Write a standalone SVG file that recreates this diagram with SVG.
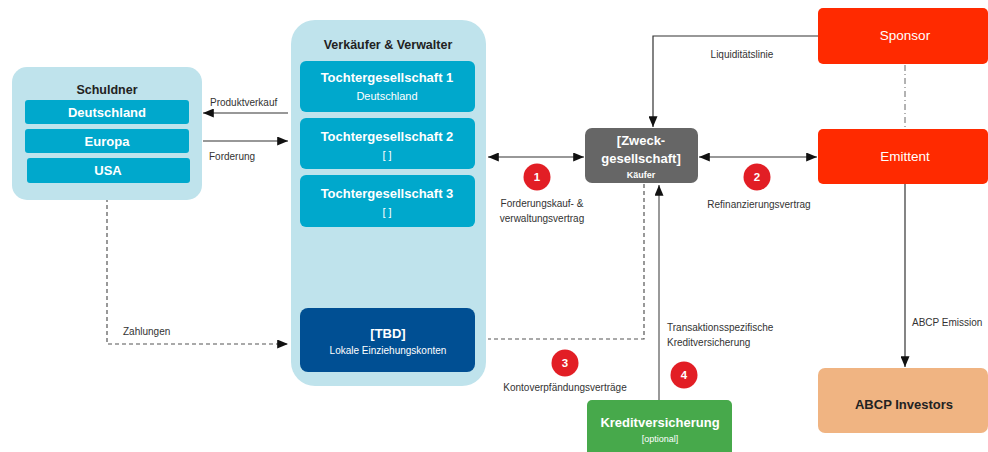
<svg xmlns="http://www.w3.org/2000/svg" width="988" height="452" viewBox="0 0 988 452">
<defs>
<marker id="ah" viewBox="0 0 12 10" refX="12" refY="5" markerWidth="12" markerHeight="9" markerUnits="userSpaceOnUse" orient="auto-start-reverse"><path d="M0,0 L12,5 L0,10 z" fill="#111"/></marker>
<style>
text{font-family:"Liberation Sans",Arial,sans-serif}
.t{font-size:12.5px;font-weight:bold;text-anchor:middle;fill:#222}
.w{font-size:13px;font-weight:bold;text-anchor:middle;fill:#fff}
.ws{font-size:11px;text-anchor:middle;fill:#fff}
.lbl{font-size:10px;fill:#333}
.lc{font-size:10px;fill:#333;text-anchor:middle}
.num{font-size:11.5px;font-weight:bold;fill:#fff;text-anchor:middle}
.ln{fill:none;stroke:#333;stroke-width:1.2}
.dash{fill:none;stroke:#555;stroke-width:1.2;stroke-dasharray:4 3}
.teal{fill:#00a8cc}
.lb{fill:#bfe3ec}
.red{fill:#ff2a00}
.circ{fill:#e21e25}
</style>
</defs>
<rect width="988" height="452" fill="#fff"/>

<g id="connectors">
<line class="ln" x1="288" y1="113" x2="203" y2="113" marker-end="url(#ah)"/>
<text class="lbl" x="210" y="106">Produktverkauf</text>
<line class="ln" x1="203" y1="141" x2="288" y2="141" marker-end="url(#ah)"/>
<text class="lbl" x="209" y="160">Forderung</text>
<polyline class="dash" points="107,184 107,344 288,344" marker-end="url(#ah)"/>
<text class="lbl" x="123" y="335">Zahlungen</text>
<line class="ln" x1="488" y1="157" x2="584" y2="157" marker-start="url(#ah)" marker-end="url(#ah)"/>
<text class="lc" x="542" y="207">Forderungskauf- &amp;</text>
<text class="lc" x="542" y="222">verwaltungsvertrag</text>
<line class="ln" x1="699" y1="157" x2="817" y2="157" marker-start="url(#ah)" marker-end="url(#ah)"/>
<text class="lc" x="759" y="208">Refinanzierungsvertrag</text>
<polyline class="ln" points="818,36 653,36 653,127" marker-end="url(#ah)"/>
<text class="lc" x="742" y="58">Liquiditätslinie</text>
<line x1="905" y1="65" x2="905" y2="129" stroke="#666" stroke-width="1" stroke-dasharray="6 3 1 3"/>
<line class="ln" x1="905" y1="184" x2="905" y2="367" marker-end="url(#ah)"/>
<text class="lbl" x="912" y="326">ABCP Emission</text>
<polyline class="dash" points="644,184 644,339 488,339"/>
<text class="lc" x="565" y="391">Kontoverpfändungsverträge</text>
<line x1="659" y1="400" x2="659" y2="185" stroke="#777" stroke-width="1.5" marker-end="url(#ah)"/>
<text class="lbl" x="667" y="331">Transaktionsspezifische</text>
<text class="lbl" x="667" y="346">Kreditversicherung</text>
</g>

<g id="schuldner">
<rect class="lb" x="12" y="67" width="190" height="133" rx="15"/>
<text class="t" x="107" y="94">Schuldner</text>
<rect class="teal" x="25" y="100" width="164" height="24" rx="3"/>
<text class="w" x="107" y="117">Deutschland</text>
<rect class="teal" x="25" y="129" width="164" height="24" rx="3"/>
<text class="w" x="107" y="146">Europa</text>
<rect class="teal" x="27" y="158" width="163" height="25" rx="3"/>
<text class="w" x="108" y="175">USA</text>
</g>

<g id="verkaeufer">
<rect class="lb" x="291" y="20" width="195" height="366" rx="24"/>
<text class="t" x="388" y="49">Verkäufer &amp; Verwalter</text>
<rect class="teal" x="300" y="61" width="175" height="51" rx="6"/>
<text class="w" x="387" y="82">Tochtergesellschaft 1</text>
<text class="ws" x="387" y="100">Deutschland</text>
<rect class="teal" x="300" y="118" width="175" height="51" rx="6"/>
<text class="w" x="387" y="141">Tochtergesellschaft 2</text>
<text class="ws" x="387" y="159">[ ]</text>
<rect class="teal" x="300" y="175" width="175" height="52" rx="6"/>
<text class="w" x="387" y="198">Tochtergesellschaft 3</text>
<text class="ws" x="387" y="216">[ ]</text>
</g>

<g id="tbd">
<rect x="300" y="308" width="175" height="64" rx="8" fill="#004f93"/>
<text class="w" x="388" y="338">[TBD]</text>
<text class="ws" x="388" y="354" style="font-size:10px">Lokale Einziehungskonten</text>
</g>

<g id="zweck">
<rect x="585" y="128" width="113" height="55" rx="7" fill="#666"/>
<text class="w" x="641" y="145">[Zweck-</text>
<text class="w" x="641" y="163">gesellschaft]</text>
<text class="ws" x="641" y="178" style="font-size:9px;font-weight:bold">Käufer</text>
</g>

<g id="sponsor">
<rect class="red" x="818" y="8" width="170" height="56" rx="5"/>
<text class="w" x="905" y="40" style="font-size:13.5px;font-weight:normal">Sponsor</text>
</g>

<g id="emittent">
<rect class="red" x="818" y="129" width="170" height="55" rx="5"/>
<text class="w" x="905" y="161" style="font-size:13.5px;font-weight:normal">Emittent</text>
</g>

<g id="investors">
<rect x="818" y="368" width="170" height="65" rx="7" fill="#f0b482"/>
<text class="t" x="904" y="409" style="font-size:13px">ABCP Investors</text>
</g>

<g id="kreditversicherung">
<rect x="587" y="400" width="145" height="60" rx="5" fill="#47a94b"/>
<text class="w" x="660" y="427">Kreditversicherung</text>
<text class="ws" x="660" y="442" style="font-size:9px">[optional]</text>
</g>

<g id="badges">
<circle class="circ" cx="537" cy="177" r="13.5"/><text class="num" x="537" y="181">1</text>
<circle class="circ" cx="757" cy="177" r="13.5"/><text class="num" x="757" y="181">2</text>
<circle class="circ" cx="565" cy="363" r="13.5"/><text class="num" x="565" y="367">3</text>
<circle class="circ" cx="684" cy="375" r="13.5"/><text class="num" x="684" y="379">4</text>
</g>
</svg>
